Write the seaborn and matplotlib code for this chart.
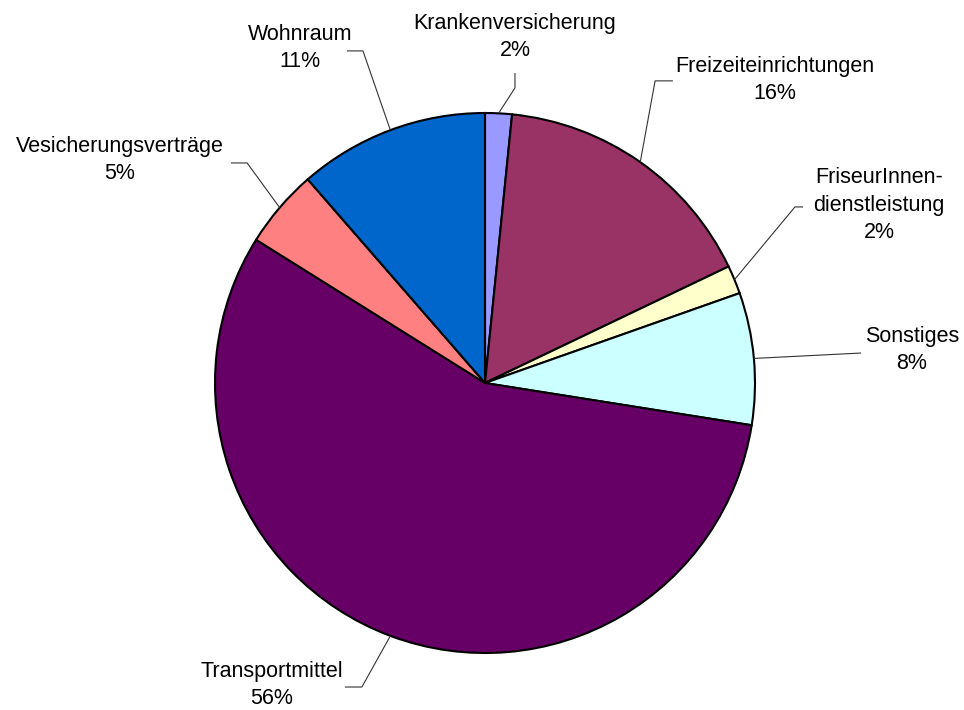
import numpy as np
import seaborn as sns
import matplotlib
matplotlib.use("Agg")
import matplotlib.pyplot as plt

# shares (clockwise from 12 o'clock)
categories = ["Krankenversicherung", "Freizeiteinrichtungen", "FriseurInnen-\ndienstleistung",
              "Sonstiges", "Transportmittel", "Vesicherungsverträge", "Wohnraum"]
shares = [1.6, 16.3, 1.7, 7.9, 56.4, 4.7, 11.4]
colors = ["#9999FF", "#993366", "#FFFFCC", "#CCFFFF", "#660066", "#FF8080", "#0066CC"]

# label layout in pie-radius units: text centre, elbow of the leader, end of the leader
label_pos = [(0.111, 1.281), (1.074, 1.122), (1.459, 0.659), (1.581, 0.122),
             (-0.789, -1.119), (-1.352, 0.826), (-0.685, 1.241)]
elbow_pos = [(0.111, 1.093), (0.630, 1.119), (1.148, 0.652), None,
             (-0.456, -1.126), (-0.881, 0.815), (-0.452, 1.230)]
end_pos = [(0.111, 1.148), (0.696, 1.119), (1.178, 0.652), (1.393, 0.111),
           (-0.519, -1.126), (-0.941, 0.815), (-0.511, 1.230)]

sns.set_theme(style="white")
plt.rcParams["font.family"] = ["Liberation Sans", "DejaVu Sans"]

fig = plt.figure(figsize=(9.64, 7.10), dpi=100)
ax = fig.add_axes([0, 0, 1, 1])
wedges, _ = ax.pie(shares, colors=colors, startangle=90, counterclock=False, radius=1,
                   wedgeprops=dict(edgecolor="black", linewidth=1.5))

total = sum(shares)
for w, name, val, lp, ep, en in zip(wedges, categories, shares, label_pos, elbow_pos, end_pos):
    mid = np.deg2rad((w.theta1 + w.theta2) / 2)
    start = (np.cos(mid), np.sin(mid))
    pts = [start] + ([ep] if ep is not None else []) + [en]
    xs, ys = zip(*pts)
    ax.plot(xs, ys, color="#333333", lw=0.8, solid_capstyle="butt")
    ax.text(lp[0], lp[1], f"{name}\n{val / total * 100:.0f}%", ha="center", va="center",
            fontsize=15.5, linespacing=1.4, color="black")

ax.set_xlim(-485 / 270, (964 - 485) / 270)
ax.set_ylim(-(710 - 383) / 270, 383 / 270)
ax.axis("off")

fig.savefig("out.png", dpi=100)
